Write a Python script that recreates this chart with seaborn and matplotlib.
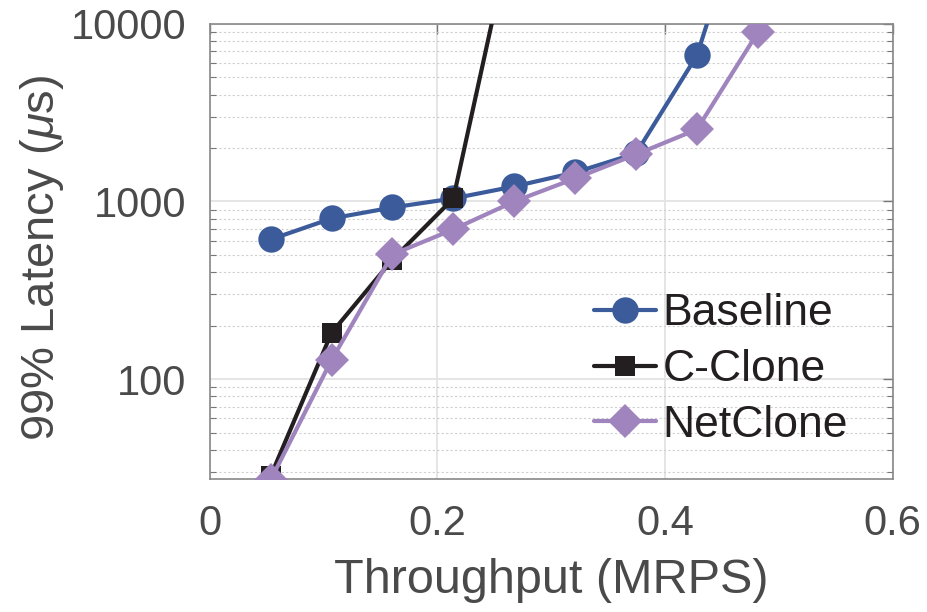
import numpy as np
import pandas as pd
import matplotlib
matplotlib.use("Agg")
import matplotlib.pyplot as plt
import seaborn as sns
from matplotlib.ticker import LogLocator, FixedLocator, NullFormatter

throughput = [0.0535, 0.107, 0.1605, 0.214, 0.2675, 0.321, 0.3745, 0.428, 0.4815]
baseline = [611, 802, 925, 1040, 1215, 1457, 1865, 6640, 80000]
cclone_x = [0.0535, 0.107, 0.1605, 0.214, 0.2675]
cclone = [28.4, 182, 470, 1040, 38000]
netclone = [27, 128, 503, 696, 1000, 1348, 1840, 2545, 8960]

x_ticks = [0, 0.2, 0.4, 0.6]
x_tick_labels = ["0", "0.2", "0.4", "0.6"]
y_ticks = [100, 1000, 10000]
y_tick_labels = ["100", "1000", "10000"]

sns.set_theme(style="white")
plt.rcParams['font.family'] = ['Liberation Sans', 'DejaVu Sans']
plt.rcParams['mathtext.fontset'] = 'custom'
plt.rcParams['mathtext.it'] = 'Liberation Sans:italic'
plt.rcParams['mathtext.rm'] = 'Liberation Sans'

fig = plt.figure(figsize=(9.28, 6.12), dpi=100)
ax = fig.add_axes([0.226, 0.217, 0.736, 0.744])

c_base = "#3B5B9B"
c_cc = "#231F20"
c_nc = "#A084BE"

df_b = pd.DataFrame({"x": throughput, "y": baseline})
df_c = pd.DataFrame({"x": cclone_x, "y": cclone})
df_n = pd.DataFrame({"x": throughput, "y": netclone})

sns.lineplot(data=df_b, x="x", y="y", ax=ax, color=c_base, marker="o", markersize=19,
             linewidth=3, markeredgewidth=0, label="Baseline", zorder=3)
sns.lineplot(data=df_c, x="x", y="y", ax=ax, color=c_cc, marker="s", markersize=15,
             linewidth=3, markeredgewidth=0, label="C-Clone", zorder=4)
sns.lineplot(data=df_n, x="x", y="y", ax=ax, color=c_nc, marker="D", markersize=17,
             linewidth=3, markeredgewidth=0, label="NetClone", zorder=5)

ax.set_yscale("log")
ax.set_xlim(0, 0.6)
ax.set_ylim(27.3, 10000)

ax.set_xticks(x_ticks)
ax.set_xticklabels(x_tick_labels, fontsize=30)
ax.yaxis.set_major_locator(FixedLocator(y_ticks))
ax.set_yticklabels(y_tick_labels, fontsize=30)
ax.yaxis.set_minor_locator(LogLocator(base=10, subs=np.arange(2, 10)))
ax.yaxis.set_minor_formatter(NullFormatter())

ax.grid(True, which="major", color="#e3e3e3", linewidth=1.3, linestyle="-")
ax.grid(True, which="minor", axis="y", color="#cfcfcf", linewidth=0.8, linestyle=(0, (2, 2)))
ax.set_axisbelow(True)

ax.tick_params(axis="both", which="major", direction="in", length=7, width=1,
               colors="#777777", labelcolor="#4a4a4a", top=True, right=True)
ax.tick_params(axis="y", which="major", pad=17)
ax.tick_params(axis="x", which="major", pad=18)
ax.tick_params(axis="y", which="minor", direction="in", length=4, width=0.8,
               colors="#777777", left=True, right=True)

for s in ax.spines.values():
    s.set_color("#888888")
    s.set_linewidth(1.2)

ax.set_xlabel("Throughput (MRPS)", fontsize=35, color="#4a4a4a", labelpad=10)
ax.set_ylabel("99% Latency ($\\mu$s)", fontsize=34, color="#4a4a4a")
ax.yaxis.set_label_coords(-0.21, 0.486)

leg = ax.legend(loc="lower right", frameon=False, fontsize=32, handlelength=1.4,
                handletextpad=0.15, borderaxespad=0.3, labelspacing=0.33,
                bbox_to_anchor=(0.98, 0.005))
for t in leg.get_texts():
    t.set_color("#231F20")

fig.savefig("out.png", dpi=100)
